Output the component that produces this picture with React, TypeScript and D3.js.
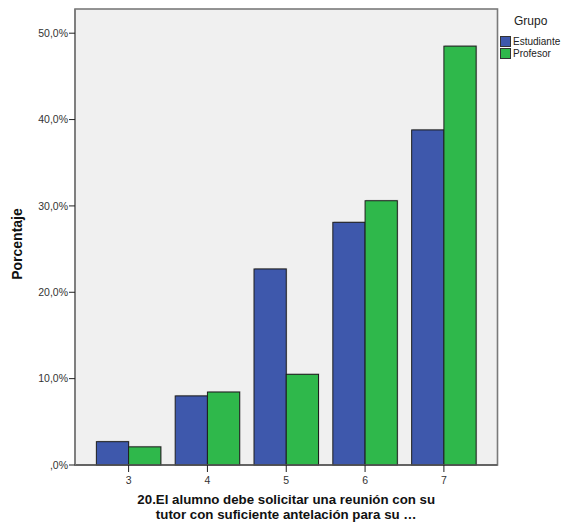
import React from "react";
import * as d3 from "d3";

const categories = ["3", "4", "5", "6", "7"];
const groups = ["Estudiante", "Profesor"];
const estudiante = [2.7, 8.0, 22.7, 28.1, 38.8];
const profesor = [2.1, 8.45, 10.5, 30.6, 48.5];
const yTicks = [0, 10, 20, 30, 40, 50];
const colors = ["#3e58ac", "#2fb84b"];
const xTitle = ["20.El alumno debe solicitar una reunión con su", "tutor con suficiente antelación para su …"];
const yTitle = "Porcentaje";
const legendTitle = "Grupo";

const W = 567, H = 528;
const L = 75, R = 497.5, T = 9, B = 465;
const font = "'Liberation Sans', Arial, Helvetica, sans-serif";

export default function App() {
  const x = d3.scaleBand<string>().domain(categories).range([L, R]).paddingInner(0).paddingOuter(0.18);
  const y = d3.scaleLinear().domain([0, 50]).range([B, B - 431.8]);
  const groupW = x.step() * 0.818;
  const x1 = d3.scaleBand<string>().domain(groups).range([0, groupW]).padding(0);
  const series = [estudiante, profesor];
  const fmt = (v: number) => (v === 0 ? ",0%" : `${v.toFixed(1).replace(".", ",")}%`);

  return (
    <svg width={W} height={H} style={{ position: "absolute", left: 0, top: 0 }} fontFamily={font}>
      <rect x={0} y={0} width={W} height={H} fill="#fff" />
      <rect x={L} y={T} width={R - L} height={B - T} fill="#f0f0f0" stroke="#7a7a7a" strokeWidth={1.6} />
      {categories.map((c, i) => {
        const cx = x(c)! + x.bandwidth() / 2;
        return (
          <g key={c}>
            {groups.map((g, gi) => {
              const v = series[gi][i];
              const bx = cx - groupW / 2 + x1(g)!;
              return (
                <g key={g}>
                  <rect x={bx + 1} y={y(v) - 1} width={x1.bandwidth()} height={B - y(v) + 1} fill="#000" opacity={0.15} />
                  <rect x={bx} y={y(v)} width={x1.bandwidth()} height={B - y(v)} fill={colors[gi]} stroke="#1e1e1e" strokeWidth={1} />
                </g>
              );
            })}
          </g>
        );
      })}
      <line x1={L} x2={R} y1={B} y2={B} stroke="#555" strokeWidth={1.6} />
      <line x1={L} x2={L} y1={T} y2={B} stroke="#7a7a7a" strokeWidth={1.6} />
      {yTicks.map((t) => (
        <g key={t}>
          <line x1={L - 6} x2={L} y1={y(t)} y2={y(t)} stroke="#222" strokeWidth={1} />
          <text x={L - 7} y={y(t)} dy="0.35em" textAnchor="end" fontSize={10.5} fill="#333">{fmt(t)}</text>
        </g>
      ))}
      {categories.map((c) => {
        const cx = x(c)! + x.bandwidth() / 2;
        return (
          <g key={c}>
            <line x1={cx} x2={cx} y1={B} y2={B + 7} stroke="#222" strokeWidth={1} />
            <text x={cx} y={B + 19} textAnchor="middle" fontSize={10.5} fill="#333">{c}</text>
          </g>
        );
      })}
      <text transform={`translate(22,${(T + B) / 2 + 7}) rotate(-90)`} textAnchor="middle" fontSize={14} fontWeight="bold" fill="#111">{yTitle}</text>
      {xTitle.map((line, i) => (
        <text key={i} x={(L + R) / 2} y={504 + i * 15} textAnchor="middle" fontSize={13.3} fontWeight="bold" fill="#111">{line}</text>
      ))}
      <text x={514} y={25} fontSize={12} fill="#222">{legendTitle}</text>
      {groups.map((g, gi) => (
        <g key={g}>
          <rect x={500.5} y={36.5 + gi * 12} width={10} height={10} fill={colors[gi]} stroke="#333" strokeWidth={1} />
          <text x={513} y={45 + gi * 12} fontSize={10} fill="#222">{g}</text>
        </g>
      ))}
    </svg>
  );
}
